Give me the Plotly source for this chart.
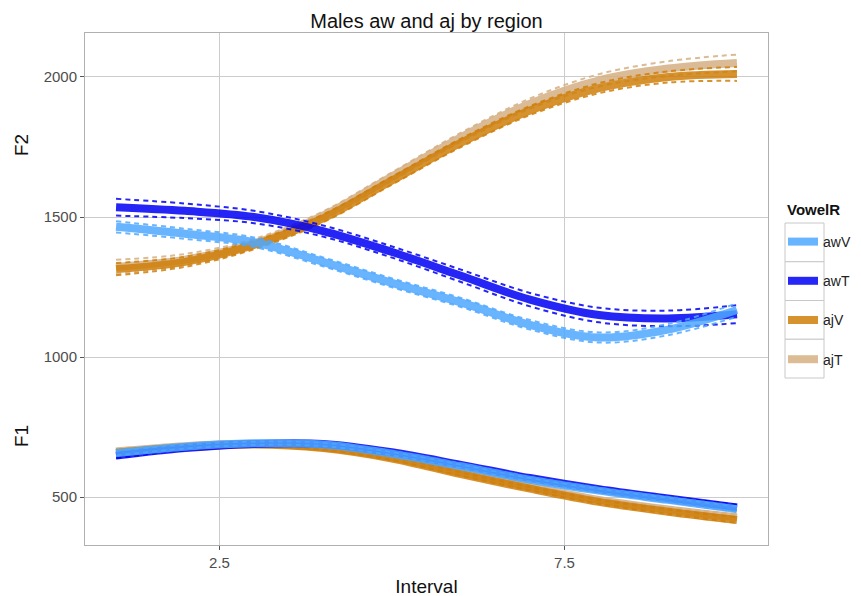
import plotly.graph_objects as go

# ---- data ----
interval = [1, 2, 3, 4, 5, 6, 7, 8, 9, 10]
vowels = ["awV", "awT", "ajV", "ajT"]

F2_awV = [1465, 1440, 1410, 1340, 1265, 1195, 1115, 1070, 1098, 1168]
F2_awT = [1535, 1522, 1500, 1450, 1375, 1290, 1205, 1150, 1138, 1153]
F2_ajV = [1314, 1340, 1400, 1495, 1630, 1765, 1880, 1960, 2000, 2011]
F2_ajT = [1322, 1348, 1405, 1505, 1645, 1785, 1905, 1988, 2030, 2050]

F1_awV = [657, 680, 692, 688, 655, 610, 562, 523, 490, 457]
F1_awT = [648, 675, 690, 690, 660, 615, 568, 528, 495, 463]
F1_ajV = [658, 678, 688, 675, 638, 582, 530, 483, 448, 418]
F1_ajT = [663, 682, 690, 678, 642, 588, 537, 490, 456, 428]

# confidence half-widths
CI2_awV = [20, 18, 17, 16, 16, 16, 17, 18, 20, 24]
CI2_awT = [30, 26, 22, 20, 20, 22, 24, 26, 28, 32]
CI2_ajV = [22, 18, 15, 14, 14, 15, 16, 18, 20, 25]
CI2_ajT = [25, 20, 17, 15, 15, 16, 18, 22, 26, 30]
CI1 = [9, 7, 6, 6, 6, 6, 6, 7, 8, 10]

x_ticks = [2.5, 7.5]
y_ticks = [500, 1000, 1500, 2000]

colors = {"awV": "#4EA8FF", "awT": "#0000F5", "ajV": "#CF7F0A", "ajT": "#D5B083"}
F2 = {"awV": F2_awV, "awT": F2_awT, "ajV": F2_ajV, "ajT": F2_ajT}
F1 = {"awV": F1_awV, "awT": F1_awT, "ajV": F1_ajV, "ajT": F1_ajT}
CI2 = {"awV": CI2_awV, "awT": CI2_awT, "ajV": CI2_ajV, "ajT": CI2_ajT}
draw_order = ["ajT", "ajV", "awT", "awV"]

fig = go.Figure()
for v in draw_order:
    c = colors[v]
    rank = vowels.index(v)
    for fam, ci, first in ((F2[v], CI2[v], True), (F1[v], CI1, False)):
        fig.add_trace(go.Scatter(
            x=interval, y=fam, mode="lines", name=v, legendgroup=v,
            legendrank=rank, showlegend=first, opacity=0.85,
            line=dict(color=c, width=8, shape="spline"),
        ))
        for sgn in (1, -1):
            fig.add_trace(go.Scatter(
                x=interval, y=[a + sgn * b for a, b in zip(fam, ci)],
                mode="lines", legendgroup=v, showlegend=False, opacity=0.85,
                line=dict(color=c, width=2, dash="5px,4px", shape="spline"),
                hoverinfo="skip",
            ))

# page has an 8px body margin: panel sits at 85..768 x 33..545 on screen
L, R, T, B = 77, 101, 25, 59
PW, PH = 861 - L - R, 596 - T - B


def px_x(sx):
    return (sx - 8 - L) / PW


def px_y(sy):
    return 1 - (sy - 8 - T) / PH


shapes = []
for i in range(4):
    shapes.append(dict(
        type="rect", xref="paper", yref="paper",
        x0=px_x(785), x1=px_x(824),
        y0=px_y(223 + 38.75 * i), y1=px_y(223 + 38.75 * (i + 1)),
        line=dict(color="#c8c8c8", width=1), fillcolor="white", layer="below",
    ))

fig.update_layout(
    width=861, height=596,
    margin=dict(l=L, r=R, t=T, b=B, autoexpand=False),
    paper_bgcolor="white", plot_bgcolor="white",
    font=dict(family="Liberation Sans, Arial, sans-serif", color="#222"),
    title=dict(text="Males aw and aj by region", xref="paper", x=0.5, xanchor="center",
               yref="container", y=1 - 13 / 596, yanchor="middle",
               font=dict(size=20, color="#111")),
    legend=dict(
        x=px_x(783), xanchor="left", y=px_y(226), yanchor="top",
        font=dict(size=14, color="#222"), tracegroupgap=18, itemwidth=30,
        bgcolor="rgba(0,0,0,0)",
    ),
    shapes=shapes,
    xaxis=dict(
        range=[0.55, 10.45], tickvals=x_ticks, ticktext=["2.5", "7.5"],
        showgrid=True, gridcolor="#cccccc", gridwidth=1,
        showline=True, linecolor="#b0b0b0", linewidth=1, mirror=True,
        ticks="outside", ticklen=4, tickcolor="#555",
        tickfont=dict(size=15, color="#4d4d4d"),
        title=dict(text="Interval", font=dict(size=19, color="#111"), standoff=9),
        zeroline=False,
    ),
    yaxis=dict(
        range=[329, 2157], tickvals=y_ticks,
        showgrid=True, gridcolor="#cccccc", gridwidth=1,
        showline=True, linecolor="#b0b0b0", linewidth=1, mirror=True,
        ticks="outside", ticklen=4, tickcolor="#555",
        tickfont=dict(size=15, color="#4d4d4d"),
        zeroline=False,
    ),
    annotations=[
        dict(text="F2", xref="paper", yref="y", x=px_x(21), xanchor="center",
             y=1757, showarrow=False, textangle=-90, font=dict(size=19, color="#111")),
        dict(text="F1", xref="paper", yref="y", x=px_x(21), xanchor="center",
             y=718, showarrow=False, textangle=-90, font=dict(size=19, color="#111")),
        dict(text="<b>VowelR</b>", xref="paper", yref="paper", x=px_x(785),
             xanchor="left", y=px_y(209), yanchor="middle", showarrow=False,
             font=dict(size=15, color="#111")),
    ],
)

fig.write_html("out.html")
